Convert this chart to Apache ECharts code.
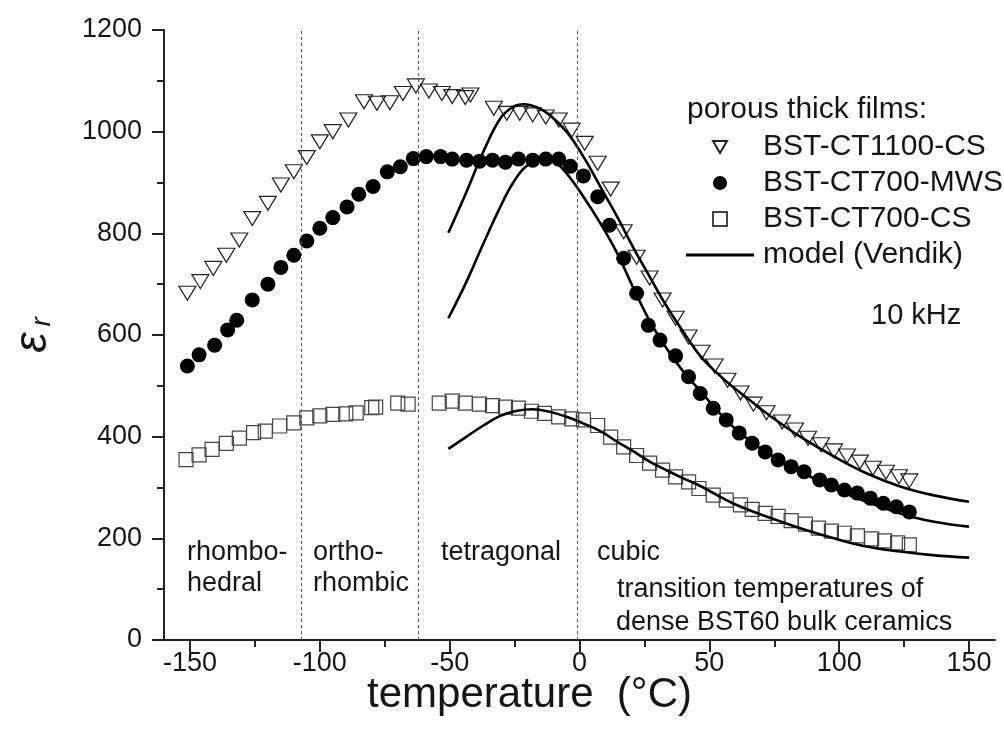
<!DOCTYPE html>
<html>
<head>
<meta charset="utf-8">
<title>Permittivity of porous BST thick films</title>
<script src="https://cdn.jsdelivr.net/npm/echarts@6/dist/echarts.min.js"></script>
<style>
  html, body { margin: 0; padding: 0; background: #fff; }
  #chart { width: 1004px; height: 736px; }
</style>
</head>
<body>
<div id="chart"></div>
<script>
const ct1100Temp = [-151, -146, -141, -136, -131, -126, -120, -115, -110, -105, -100, -95, -89, -83, -78, -73, -68, -63, -58, -53, -49, -44, -42, -33, -28, -23, -18, -13, -8, -3, 2, 7, 12, 17, 22, 27, 32, 37, 42, 47, 52, 57, 62, 67, 72, 78, 83, 88, 93, 98, 103, 108, 113, 118, 123, 127];
const ct1100Eps = [682, 705, 731, 757, 787, 829, 859, 895, 921, 949, 980, 1000, 1023, 1059, 1056, 1057, 1075, 1090, 1080, 1075, 1069, 1067, 1072, 1046, 1036, 1036, 1033, 1029, 1023, 1003, 977, 938, 887, 803, 753, 712, 669, 633, 596, 566, 539, 511, 486, 464, 447, 429, 413, 397, 384, 372, 362, 350, 338, 330, 321, 313];

const mwsTemp = [-151, -146.5, -140.5, -135.5, -132, -126, -120, -115, -110, -105, -100, -95, -89.5, -85, -79.5, -74, -69, -64, -59, -53.5, -49, -43.5, -38.5, -33.5, -28.5, -23.5, -18, -13, -8, -3.5, 1.5, 7, 11.5, 17, 22, 26.5, 31, 37, 42, 46.5, 51.5, 56.5, 61.5, 66.5, 71.5, 76.5, 81.5, 86.5, 92.5, 97, 102, 107, 112, 117, 122, 127];
const mwsEps = [539, 561, 580, 610, 629, 669, 700, 733, 757, 785, 810, 831, 852, 877, 892, 921, 931, 947, 951, 951, 946, 944, 942, 944, 940, 946, 944, 946, 946, 932, 913, 872, 816, 751, 682, 619, 590, 559, 518, 485, 456, 433, 407, 387, 370, 354, 341, 331, 315, 305, 295, 289, 279, 269, 262, 252];

const ct700Temp = [-151.5, -146.5, -141.5, -136, -131, -125.5, -121, -115.5, -110, -105, -100, -95, -90, -86, -80, -78.5, -70, -66, -54, -49, -44, -38.5, -33.5, -28.5, -23.5, -18.5, -13.5, -8, -3, 1.5, 7, 12, 17, 22, 27, 32, 37, 42, 46, 51.5, 56.5, 62, 66.5, 71.5, 76.5, 81.5, 87, 92, 97, 102, 107, 112.5, 117.5, 122.5, 127];
const ct700Eps = [355, 364, 375, 387, 397, 408, 411, 421, 427, 437, 441, 444, 445, 447, 457, 458, 466, 464, 466, 470, 466, 464, 461, 458, 456, 450, 446, 439, 435, 433, 422, 399, 380, 363, 348, 334, 321, 311, 298, 285, 275, 266, 257, 249, 243, 235, 228, 220, 214, 210, 205, 199, 195, 191, 187];

// Vendik model curves
const modelCt1100Temp = [-50.5, -43.5, -37, -30.5, -25.5, -21.5, -16.5, -11.5, -5, 1.5, 8, 14.5, 20.5, 27, 33.5, 40, 46.5, 53, 59, 66, 72, 85, 98, 110.5, 123.5, 136, 150];
const modelCt1100Eps = [801, 882, 961, 1026, 1049, 1054, 1048, 1033, 1000, 951, 892, 833, 774, 715, 657, 606, 559, 525, 498, 470, 446, 400, 361, 328, 302, 285, 272];

const modelMwsTemp = [-50.5, -43.5, -37, -30.5, -25.5, -20.5, -15, -10, -5, 1.5, 8, 14.5, 20.5, 27, 33.5, 40, 46.5, 53, 59, 65.5, 72, 85, 98, 110.5, 123.5, 136, 150];
const modelMwsEps = [633, 705, 780, 852, 900, 932, 944, 941, 918, 872, 820, 761, 695, 628, 574, 528, 490, 452, 420, 393, 369, 332, 298, 272, 249, 233, 223];

const modelCt700Temp = [-50.5, -43.5, -37, -30.5, -24, -18, -11.5, -5, 1.5, 8, 14.5, 20.5, 27, 33.5, 40, 46.5, 59, 72, 85, 98, 110.5, 123.5, 136, 150];
const modelCt700Eps = [376, 400, 422, 441, 451, 454, 449, 439, 426, 411, 390, 372, 351, 334, 318, 303, 269, 243, 220, 200, 184, 174, 167, 162];

// phase transition temperatures of dense BST60 ceramics
const phaseBoundaries = [-107, -62, -1];

const xMajorTicks = [-150, -100, -50, 0, 50, 100, 150];
const xMinorTicks = [-125, -75, -25, 25, 75, 125];

const FONT = '"Liberation Sans", Arial, sans-serif';
const INK = '#161616';
const HOLLOW = 'rgba(255,255,255,0)';

function pairs(xs, ys) {
  return xs.map((x, i) => [x, ys[i]]);
}

function label(text, x, y, size) {
  return {
    type: 'text', x: x, y: y, silent: true,
    style: { text: text, font: (size || 27) + 'px ' + FONT, fill: INK, verticalAlign: 'middle' }
  };
}

const modelLine = {
  type: 'line', name: 'model (Vendik)', smooth: 0.4, symbol: 'none',
  itemStyle: { color: '#000' },
  lineStyle: { color: '#000', width: 2.6 },
  z: 4
};

const chart = echarts.init(document.getElementById('chart'), null, { renderer: 'canvas' });

chart.setOption({
  animation: false,
  backgroundColor: '#fff',
  grid: { left: 164, right: 9, top: 30, bottom: 96 },
  xAxis: [{
    type: 'value', min: -160, max: 160,
    name: 'temperature  (°C)', nameLocation: 'middle', nameGap: 34, nameMoveOverlap: false,
    nameTextStyle: { fontFamily: FONT, fontSize: 42, color: INK, padding: [0, 100, 0, 0] },
    axisLine: { onZero: false, lineStyle: { color: '#222', width: 2 } },
    axisTick: { length: 12, customValues: xMajorTicks, lineStyle: { color: '#222', width: 2 } },
    axisLabel: { customValues: xMajorTicks, margin: 10, fontFamily: FONT, fontSize: 27, color: INK },
    splitLine: { show: false }
  }, {
    type: 'value', min: -160, max: 160, position: 'bottom',
    axisLine: { show: false, onZero: false },
    axisTick: { length: 7, customValues: xMinorTicks, lineStyle: { color: '#222', width: 2 } },
    axisLabel: { show: false },
    splitLine: { show: false }
  }],
  yAxis: {
    type: 'value', min: 0, max: 1200, interval: 200,
    name: '{e|ε}{r|r}', nameLocation: 'middle', nameGap: 108, nameRotate: 90,
    nameTextStyle: {
      rich: {
        e: { fontFamily: FONT, fontSize: 46, fontStyle: 'italic', color: INK },
        r: { fontFamily: FONT, fontSize: 28, fontStyle: 'italic', color: INK, verticalAlign: 'bottom', padding: [0, 0, 0, 6] }
      }
    },
    axisLine: { onZero: false, lineStyle: { color: '#222', width: 2 } },
    axisTick: { length: 12, lineStyle: { color: '#222', width: 2 } },
    minorTick: { show: true, splitNumber: 2, length: 7, lineStyle: { color: '#222', width: 2 } },
    axisLabel: { margin: 22, fontFamily: FONT, fontSize: 27, color: INK, formatter: v => String(v) },
    splitLine: { show: false }
  },
  legend: [{
    orient: 'vertical', left: 707, top: 127,
    itemWidth: 14, itemHeight: 14, itemGap: 6,
    selectedMode: false,
    textStyle: { fontFamily: FONT, fontSize: 30, color: INK, padding: [0, 0, 0, 31] },
    data: [
      { name: 'BST-CT1100-CS', icon: 'path://M0,0L20,0L10,17Z' },
      { name: 'BST-CT700-MWS', icon: 'circle' },
      { name: 'BST-CT700-CS', icon: 'path://M1,1L19,1L19,19L1,19Z' }
    ]
  }, {
    orient: 'vertical', left: 681, top: 235,
    itemWidth: 68, itemHeight: 3,
    selectedMode: false,
    textStyle: { fontFamily: FONT, fontSize: 30, color: INK, padding: [0, 0, 0, 4] },
    data: [{ name: 'model (Vendik)', icon: 'rect', itemStyle: { color: '#000' } }]
  }],
  graphic: [
    label('porous thick films:', 687, 110, 30),
    label('10 kHz', 871, 316, 29),
    label('rhombo-', 187, 553),
    label('hedral', 187, 584),
    label('ortho-', 313, 553),
    label('rhombic', 313, 584),
    label('tetragonal', 441, 553),
    label('cubic', 597, 553),
    label('transition temperatures of', 617, 590),
    label('dense BST60 bulk ceramics', 616, 623)
  ],
  series: [
    {
      type: 'scatter', name: 'BST-CT1100-CS',
      data: pairs(ct1100Temp, ct1100Eps),
      symbol: 'triangle', symbolRotate: 180, symbolSize: [17, 14],
      itemStyle: { color: HOLLOW, borderColor: '#222', borderWidth: 1.2, opacity: 1 },
      markLine: {
        silent: true, symbol: 'none', animation: false,
        label: { show: false },
        lineStyle: { color: '#555', width: 1, type: [3, 3] },
        data: phaseBoundaries.map(v => ({ xAxis: v }))
      },
      z: 3
    },
    {
      type: 'scatter', name: 'BST-CT700-MWS',
      data: pairs(mwsTemp, mwsEps),
      symbol: 'circle', symbolSize: 15,
      itemStyle: { color: '#000', opacity: 1 },
      z: 3
    },
    {
      type: 'scatter', name: 'BST-CT700-CS',
      data: pairs(ct700Temp, ct700Eps),
      symbol: 'rect', symbolSize: 14,
      itemStyle: { color: HOLLOW, borderColor: '#444', borderWidth: 1.2, opacity: 1 },
      z: 3
    },
    Object.assign({ data: pairs(modelCt1100Temp, modelCt1100Eps) }, modelLine),
    Object.assign({ data: pairs(modelMwsTemp, modelMwsEps) }, modelLine),
    Object.assign({ data: pairs(modelCt700Temp, modelCt700Eps) }, modelLine)
  ]
});

window.onresize = function () {
  chart.resize();
};
</script>
</body>
</html>
